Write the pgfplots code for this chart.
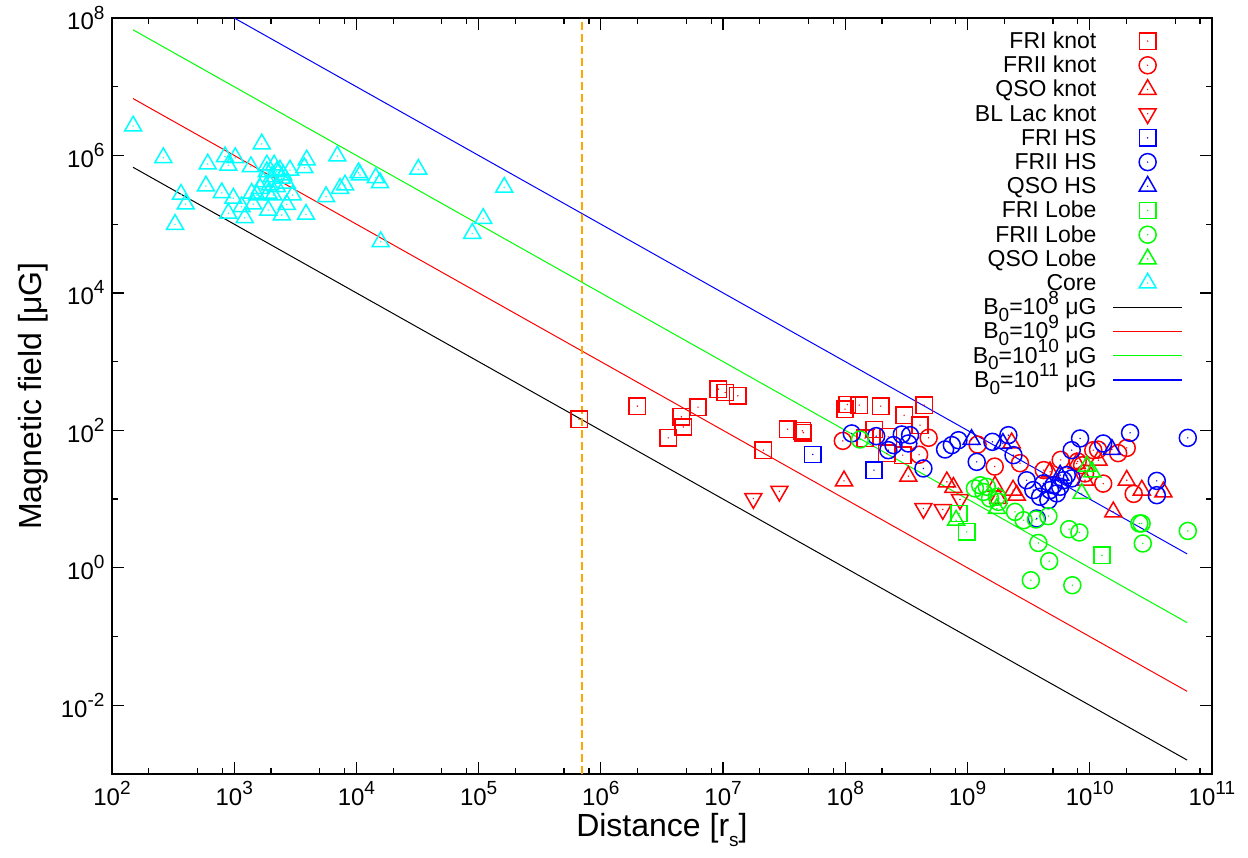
\documentclass[border=0pt]{standalone}
\usepackage{pgfplots}
\pgfplotsset{compat=1.18}
\usepackage{fontspec}
\setmainfont{Liberation Sans}
\definecolor{gred}{RGB}{255,0,0}
\definecolor{ggreen}{RGB}{0,255,0}
\definecolor{gblue}{RGB}{0,0,255}
\definecolor{gcyan}{RGB}{0,255,255}
\definecolor{gorange}{RGB}{255,165,0}

\pgfdeclareplotmark{dsq}{%
  \pgfpathrectangle{\pgfqpoint{-\pgfplotmarksize}{-\pgfplotmarksize}}{\pgfqpoint{2\pgfplotmarksize}{2\pgfplotmarksize}}%
  \pgfusepathqstroke
  \pgfpathcircle{\pgfpointorigin}{0.8pt}\pgfusepathqfill}
\pgfdeclareplotmark{dcirc}{%
  \pgfpathcircle{\pgfpointorigin}{\pgfplotmarksize}%
  \pgfusepathqstroke
  \pgfpathcircle{\pgfpointorigin}{0.8pt}\pgfusepathqfill}
\pgfdeclareplotmark{dtri}{%
  \pgfpathmoveto{\pgfpointpolar{90}{\pgfplotmarksize}}%
  \pgfpathlineto{\pgfpointpolar{210}{\pgfplotmarksize}}%
  \pgfpathlineto{\pgfpointpolar{330}{\pgfplotmarksize}}%
  \pgfpathclose
  \pgfusepathqstroke
  \pgfpathcircle{\pgfpointorigin}{0.8pt}\pgfusepathqfill}
\pgfdeclareplotmark{dtrid}{%
  \pgfpathmoveto{\pgfpointpolar{270}{\pgfplotmarksize}}%
  \pgfpathlineto{\pgfpointpolar{30}{\pgfplotmarksize}}%
  \pgfpathlineto{\pgfpointpolar{150}{\pgfplotmarksize}}%
  \pgfpathclose
  \pgfusepathqstroke
  \pgfpathcircle{\pgfpointorigin}{0.8pt}\pgfusepathqfill}

\newcommand{\sups}[1]{\raisebox{0.45em}{\fontsize{19}{19}\selectfont #1}}
\newcommand{\subs}[1]{\raisebox{-0.3em}{\fontsize{19}{19}\selectfont #1}}

\pgfplotsset{
  msq/.style={only marks, mark=dsq, mark size=8.2pt, line width=1.5pt},
  mci/.style={only marks, mark=dcirc, mark size=8.5pt, line width=1.5pt},
  mtr/.style={only marks, mark=dtri, mark size=9.8pt, line width=1.5pt},
  mtd/.style={only marks, mark=dtrid, mark size=9.8pt, line width=1.5pt},
  markleg/.style={legend image code/.code={%
      \draw[mark repeat=2,mark phase=2,##1] plot coordinates {(0pt,0pt) (34.5pt,0pt) (69pt,0pt)};}},
}

\begin{document}
\begin{tikzpicture}[x=1pt,y=1pt]
\path[use as bounding box] (-112,-84) rectangle (1136,774);
\begin{axis}[
  at={(0,0)}, anchor=south west,
  scale only axis, width=1100pt, height=756pt,
  xmode=log, ymode=log, log basis x=10, log basis y=10,
  xmin=1e2, xmax=1e11, ymin=1e-3, ymax=1e8,
  clip=false,
  xtick={1e2,1e3,1e4,1e5,1e6,1e7,1e8,1e9,1e10,1e11},
  xticklabels={10\sups{2},10\sups{3},10\sups{4},10\sups{5},10\sups{6},10\sups{7},10\sups{8},10\sups{9},10\sups{10},10\sups{11}},
  minor xtick={2e2,5e2,8e2,2e3,5e3,8e3,2e4,5e4,8e4,2e5,5e5,8e5,2e6,5e6,8e6,2e7,5e7,8e7,2e8,5e8,8e8,2e9,5e9,8e9,2e10,5e10,8e10},
  ytick={1e-2,1,1e2,1e4,1e6,1e8},
  yticklabels={10\sups{-2},10\sups{0},10\sups{2},10\sups{4},10\sups{6},10\sups{8}},
  minor ytick={1e-3,1e-1,1e1,1e3,1e5,1e7},
  tick align=inside,
  xtick pos=both, ytick pos=both,
  xticklabel pos=lower, yticklabel pos=left,
  major tick length=12pt, minor tick length=6pt,
  every tick/.style={black, line width=1.2pt},
  axis line style={line width=1.6pt},
  ticklabel style={font=\fontsize{24}{24}\selectfont},
  xticklabel style={yshift=-4pt},
  yticklabel style={xshift=-4pt},
  xlabel={Distance [r\subs{s}]},
  ylabel={Magnetic field [μG]},
  label style={font=\fontsize{32}{32}\selectfont},
  xlabel style={at={(axis description cs:0.5,-0.074)}, anchor=center},
  ylabel style={at={(axis description cs:-0.0718,0.5)}, anchor=center},
  legend style={at={(axis description cs:0.97364,0.98545)}, anchor=north east,
    draw=none, fill=none, inner sep=0pt, outer sep=0pt,
    column sep=16pt, row sep=0pt,
    font=\fontsize{23}{23}\selectfont,
    nodes={inner sep=0pt, text height=19.5pt, text depth=4.7pt}},
  legend cell align=right, legend plot pos=right,
]
% FRI knot
\addplot[msq, color=gred, markleg] coordinates {
(6.64e5,1.46e2) (1.99e6,2.25e2) (4.56e6,1.57e2) (4.73e6,1.12e2) (3.56e6,7.78e1)
(6.24e6,2.18e2) (9.16e6,3.98e2) (1.04e7,3.56e2) (1.32e7,3.18e2) (2.14e7,5.15e1)
(3.38e7,1.04e2) (4.46e7,9.84e1) (4.54e7,9.27e1) (9.95e7,2.04e2) (1.04e8,2.38e2)
(1.30e8,2.33e2) (1.95e8,2.25e2) (3.03e8,1.66e2) (4.42e8,2.33e2) (4.09e8,1.19e2)
(1.73e8,1.03e2) (2.25e8,8.04e1) (2.19e8,4.61e1) (2.95e8,4.36e1) (1.45e8,7.7e1)
};
\addlegendentry{FRI knot}
% FRII knot
\addplot[mci, color=gred, markleg] coordinates {
(9.55e7,7.03e1) (4.81e8,7.80e1) (4.02e8,4.42e1) (1.21e9,6.21e1) (1.67e9,2.97e1)
(2.69e9,3.33e1) (4.21e9,2.64e1) (5.79e9,3.72e1) (7.98e9,3.52e1) (1.17e10,5.24e1)
(2.01e10,5.55e1) (1.29e10,1.68e1) (2.29e10,1.19e1) (1.71e10,4.66e1) (8.67e9,3.11e1)
(9.16e9,2.36e1) (1.07e10,5.15e1)
};
\addlegendentry{FRII knot}
% QSO knot
\addplot[mtr, color=gred, markleg] coordinates {
(9.77e7,1.84e1) (3.28e8,2.15e1) (6.78e8,1.78e1) (7.67e8,1.48e1) (1.68e9,1.54e1)
(1.79e9,1.02e1) (2.53e9,1.14e1) (2.30e9,6.58e1) (1.18e10,3.68e1) (2.01e10,1.88e1)
(2.67e10,1.35e1) (4.01e10,1.27e1) (1.56e10,6.51) (2.36e9,1.35e1) (7.83e9,3.30e1)
(9.16e9,1.88e1) (4.74e9,2.49e1)
};
\addlegendentry{QSO knot}
% BL Lac knot
\addplot[mtd, color=gred, markleg] coordinates {
(1.77e7,1.02e1) (2.89e7,1.30e1) (4.36e8,7.30) (6.28e8,7.06) (8.69e8,9.86)
};
\addlegendentry{BL Lac knot}
% FRI HS
\addplot[msq, color=gblue, markleg] coordinates {
(5.42e7,4.46e1) (1.72e8,2.64e1)
};
\addlegendentry{FRI HS}
% FRII HS
\addplot[mci, color=gblue, markleg] coordinates {
(1.13e8,9.02e1) (1.79e8,8.24e1) (2.48e8,6.10e1) (2.90e8,8.71e1) (3.39e8,8.51e1)
(3.28e8,6.44e1) (2.25e8,5.15e1) (4.36e8,2.79e1) (6.56e8,5.27e1) (7.45e8,6.10e1)
(8.43e8,7.19e1) (1.19e9,3.48e1) (1.60e9,6.81e1) (2.16e9,8.51e1) (2.38e9,4.36e1)
(8.34e9,7.62e1) (7.13e9,5.15e1) (1.29e10,6.44e1) (2.14e10,9.20e1) (6.35e10,7.78e1)
(3.54e10,1.84e1) (3.54e10,1.14e1) (3.05e9,1.88e1) (4.18e9,1.69e1) (4.74e9,1.35e1)
(5.38e9,1.21e1) (6.10e9,1.88e1) (6.50e9,2.23e1) (7.13e9,2.00e1) (4.59e9,9.64)
(3.93e9,1.08e1) (5.05e9,1.59e1) (5.73e9,1.51e1) (3.69e9,5.22) (3.46e9,1.35e1)
};
\addlegendentry{FRII HS}
% QSO HS
\addplot[mtr, color=gblue, markleg] coordinates {
(1.08e9,7.36e1) (1.95e9,6.44e1) (1.52e10,5.27e1) (5.73e9,2.23e1)
};
\addlegendentry{QSO HS}
% FRI Lobe
\addplot[msq, color=ggreen, markleg] coordinates {
(8.53e8,6.17) (9.86e8,3.33) (1.26e10,1.52)
};
\addlegendentry{FRI Lobe}
% FRII Lobe
\addplot[mci, color=ggreen, markleg] coordinates {
(1.32e8,7.36e1) (1.27e9,1.59e1) (1.15e9,1.43e1) (1.35e9,1.27e1) (1.44e9,1.51e1)
(1.53e9,1.02e1) (1.74e9,1.08e1) (1.79e9,9.10) (2.45e9,6.51) (2.88e9,4.93)
(3.64e9,5.05) (4.59e9,5.64) (6.78e9,3.65) (8.24e9,3.27) (3.80e9,2.30)
(4.66e9,1.25) (3.30e9,0.660) (7.21e9,0.558) (2.55e10,4.42) (2.66e10,4.42)
(2.72e10,2.26) (6.35e10,3.44)
};
\addlegendentry{FRII Lobe}
% QSO Lobe
\addplot[mtr, color=ggreen, markleg] coordinates {
(8.07e8,4.93) (1.74e9,7.30) (9.46e9,3.01e1) (8.61e9,1.21e1) (1.05e10,2.47e1)
};
\addlegendentry{QSO Lobe}
% Core
\addplot[mtr, color=gcyan, markleg] coordinates {
(1.49e2,2.68e6) (2.63e2,9.27e5) (1.68e3,1.47e6) (6.07e2,7.50e5) (8.41e2,9.57e5)
(1.02e3,9.27e5) (8.95e2,7.18e5) (1.37e3,6.85e5) (1.85e3,7.24e5) (2.12e3,7.24e5)
(2.86e3,6.12e5) (3.92e3,8.57e5) (3.75e3,6.62e5) (6.98e3,9.79e5) (1.04e4,5.60e5)
(1.07e4,5.19e5) (1.44e4,4.73e5) (1.56e4,4.01e5) (3.21e4,6.28e5) (1.62e5,3.44e5)
(1.09e5,1.21e5) (8.87e4,7.35e4) (1.58e4,5.55e4) (8.07e3,3.71e5) (7.35e3,3.32e5)
(5.64e3,2.51e5) (3.01e3,2.65e5) (2.69e3,1.94e5) (3.87e3,1.39e5) (2.45e3,1.36e5)
(1.90e3,1.60e5) (1.43e3,1.96e5) (1.22e3,1.24e5) (8.95e2,1.44e5) (9.84e2,2.38e5)
(7.91e2,2.86e5) (5.87e2,3.59e5) (3.67e2,2.72e5) (4.01e2,1.96e5) (3.28e2,9.93e4)
(1.15e3,1.79e5) (1.85e3,5.79e5) (2.03e3,4.90e5) (2.23e3,5.79e5) (2.45e3,4.65e5)
(1.73e3,4.14e5) (1.96e3,3.71e5) (2.23e3,3.50e5) (2.69e3,3.93e5) (1.63e3,3.32e5)
(1.90e3,2.81e5) (2.09e3,2.65e5) (1.53e3,2.65e5) (1.39e3,2.81e5) (2.52e3,5.19e5)
(2.37e3,6.12e5)
};
\addlegendentry{Core}
% B0 lines
\addplot[black, line width=1pt, legend image code/.code={\draw[black, line width=1.5pt] (0pt,0pt) -- (69pt,0pt);}] coordinates {(1.486e2,6.73e5) (6.27e10,1.595e-3)};
\addlegendentry{B\subs{0}=10\sups{8} μG}
\addplot[gred, line width=1pt, legend image code/.code={\draw[gred, line width=1.5pt] (0pt,0pt) -- (69pt,0pt);}] coordinates {(1.486e2,6.73e6) (6.27e10,1.595e-2)};
\addlegendentry{B\subs{0}=10\sups{9} μG}
\addplot[ggreen, line width=1pt, legend image code/.code={\draw[ggreen, line width=1.5pt] (0pt,0pt) -- (69pt,0pt);}] coordinates {(1.486e2,6.73e7) (6.27e10,1.595e-1)};
\addlegendentry{B\subs{0}=10\sups{10} μG}
\addplot[gblue, line width=1pt, legend image code/.code={\draw[gblue, line width=1.5pt] (0pt,0pt) -- (69pt,0pt);}] coordinates {(1.0e3,1.0e8) (6.27e10,1.595)};
\addlegendentry{B\subs{0}=10\sups{11} μG}
% vertical marker
\addplot[gorange, line width=2pt, dash pattern=on 8pt off 4pt, forget plot] coordinates {(7.0e5,1e-3) (7.0e5,1e8)};
\end{axis}
\end{tikzpicture}
\end{document}
